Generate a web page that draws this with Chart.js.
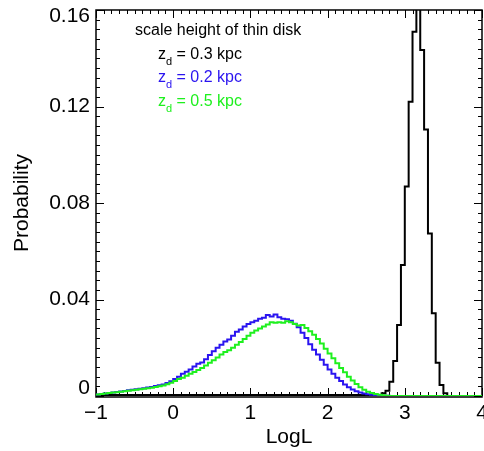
<!DOCTYPE html>
<html>
<head>
<meta charset="utf-8">
<script src="https://cdn.jsdelivr.net/npm/chart.js@4.4.1/dist/chart.umd.min.js"></script>
<style>
  html, body { margin: 0; padding: 0; background: #fff; }
</style>
</head>
<body>
<canvas id="chart" width="484" height="451"></canvas>
<script>
// histogram bins, width 0.05 in LogL
const BIN_WIDTH = 0.05;
const X_MIN = -1, X_MAX = 4;
const Y_MIN = 0, Y_MAX = 0.16;

const xTickLabels = ["\u22121", "0", "1", "2", "3", "4"];
const xTickValues = [-1, 0, 1, 2, 3, 4];
const yTickLabels = ["0", "0.04", "0.08", "0.12", "0.16"];
const yTickValues = [0, 0.04, 0.08, 0.12, 0.16];

// z_d = 0.3 kpc (black), bins from LogL = 2.70
const blackStart = 2.70;
const blackProb = [0.0004, 0.0011, 0.0022, 0.0059, 0.0145, 0.0294, 0.0543, 0.0868, 0.1220,
  0.1510, 0.1800, 0.1434, 0.1105, 0.0674, 0.0343, 0.0138, 0.0046, 0.0011];

// z_d = 0.2 kpc (blue), bins from LogL = -1.00
const blueStart = -1.00;
const blueProb = [
  0.0005, 0.0006, 0.0008, 0.0010, 0.0012, 0.0014, 0.0017, 0.0019, 0.0021, 0.0024,
  0.0026, 0.0028, 0.0030, 0.0032, 0.0035, 0.0037, 0.0041, 0.0045, 0.0048, 0.0054,
  0.0061, 0.0070, 0.0080, 0.0092, 0.0101, 0.0110, 0.0122, 0.0134, 0.0139, 0.0152,
  0.0170, 0.0185, 0.0200, 0.0212, 0.0226, 0.0234, 0.0250, 0.0266, 0.0276, 0.0288,
  0.0298, 0.0306, 0.0312, 0.0320, 0.0324, 0.0336, 0.0330, 0.0338, 0.0326, 0.0320,
  0.0318, 0.0312, 0.0300, 0.0285, 0.0262, 0.0240, 0.0215, 0.0192, 0.0172, 0.0150,
  0.0130, 0.0110, 0.0092, 0.0076, 0.0062, 0.0048, 0.0036, 0.0027, 0.0020, 0.0014,
  0.0010, 0.0007, 0.0005, 0.0003, 0.0002, 0.0001, 0.0001];

// z_d = 0.5 kpc (green), bins from LogL = -1.00
const greenStart = -1.00;
const greenProb = [
  0.0004, 0.0006, 0.0008, 0.0010, 0.0012, 0.0014, 0.0016, 0.0018, 0.0020, 0.0022,
  0.0024, 0.0026, 0.0028, 0.0030, 0.0032, 0.0034, 0.0037, 0.0040, 0.0044, 0.0049,
  0.0055, 0.0062, 0.0070, 0.0076, 0.0084, 0.0092, 0.0100, 0.0108, 0.0116, 0.0126,
  0.0138, 0.0148, 0.0160, 0.0172, 0.0182, 0.0190, 0.0200, 0.0212, 0.0224, 0.0236,
  0.0250, 0.0262, 0.0272, 0.0280, 0.0288, 0.0296, 0.0306, 0.0304, 0.0306, 0.0304,
  0.0310, 0.0306, 0.0298, 0.0292, 0.0294, 0.0282, 0.0268, 0.0254, 0.0236, 0.0218,
  0.0196, 0.0176, 0.0156, 0.0136, 0.0116, 0.0098, 0.0080, 0.0064, 0.0050, 0.0036,
  0.0026, 0.0018, 0.0012, 0.0008, 0.0005, 0.0003, 0.0001];

const legendTitle = "scale height of thin disk";
const legendLabels = ["= 0.3 kpc", "= 0.2 kpc", "= 0.5 kpc"];
const colBlack = "#000000", colBlue = "#2a14f0", colGreen = "#1ef01e";
const FONT = '"Liberation Sans", Arial, Helvetica, sans-serif';

// turn bin values into points for a stepped line, zero outside the bins
function stepPoints(start, vals) {
  var pts = [];
  if (start > X_MIN) pts.push({x: X_MIN, y: 0});
  for (var i = 0; i < vals.length; i++) {
    pts.push({x: +(start + i * BIN_WIDTH).toFixed(3), y: vals[i]});
  }
  pts.push({x: +(start + vals.length * BIN_WIDTH).toFixed(3), y: 0});
  pts.push({x: X_MAX, y: 0});
  return pts;
}

// IDL-style box: ticks inside on all four sides, labels and titles
const frameAxes = {
  id: "frameAxes",
  beforeDatasetsDraw(chart) {
    const {ctx, chartArea: a, scales: {x, y}} = chart;
    ctx.save();
    ctx.strokeStyle = "#000";
    ctx.lineWidth = 1;
    ctx.beginPath();
    for (var i = 0; i <= 50; i++) {
      var v = X_MIN + i * 0.1;
      var px = Math.round(x.getPixelForValue(v)) + 0.5;
      var len = (i % 10 === 0) ? 8 : 4;
      ctx.moveTo(px, a.bottom); ctx.lineTo(px, a.bottom - len);
      ctx.moveTo(px, a.top); ctx.lineTo(px, a.top + len);
    }
    for (var j = 0; j <= 40; j++) {
      var vy = Y_MIN + j * 0.004;
      var py = Math.round(y.getPixelForValue(vy)) + 0.5;
      var leny = (j % 10 === 0) ? 8 : 4;
      ctx.moveTo(a.left, py); ctx.lineTo(a.left + leny, py);
      ctx.moveTo(a.right, py); ctx.lineTo(a.right - leny, py);
    }
    ctx.stroke();
    ctx.lineWidth = 1.5;
    ctx.strokeRect(a.left, a.top, a.right - a.left, a.bottom - a.top + 1);

    // tick labels
    ctx.fillStyle = "#000";
    ctx.font = "21px " + FONT;
    ctx.textAlign = "center";
    ctx.textBaseline = "middle";
    xTickValues.forEach((v, k) => {
      ctx.fillText(xTickLabels[k], x.getPixelForValue(v), a.bottom + 17);
    });
    ctx.textAlign = "right";
    yTickValues.forEach((v, k) => {
      var py = y.getPixelForValue(v);
      py = Math.min(Math.max(py, a.top + 6), a.bottom - 8);
      ctx.fillText(yTickLabels[k], a.left - 6, py);
    });

    // axis titles
    ctx.textAlign = "center";
    ctx.fillText("LogL", (a.left + a.right) / 2, 437);
    ctx.save();
    ctx.translate(22, (a.top + a.bottom) / 2);
    ctx.rotate(-Math.PI / 2);
    ctx.fillText("Probability", 0, 0);
    ctx.restore();

    // legend text
    ctx.textAlign = "left";
    ctx.textBaseline = "alphabetic";
    ctx.font = "16px " + FONT;
    ctx.fillText(legendTitle, 135, 35);
    var cols = [colBlack, colBlue, colGreen];
    legendLabels.forEach((t, k) => {
      var bx = 158, by = 58.5 + k * 23.5;
      ctx.fillStyle = cols[k];
      ctx.font = "16px " + FONT;
      ctx.fillText("z", bx, by);
      bx += ctx.measureText("z").width;
      ctx.font = "11px " + FONT;
      ctx.fillText("d", bx, by + 6);
      bx += ctx.measureText("d").width;
      ctx.font = "16px " + FONT;
      ctx.fillText(" " + t, bx, by);
    });
    ctx.restore();
  }
};

new Chart(document.getElementById("chart"), {
  type: "line",
  data: {
    datasets: [
      {label: "z_d = 0.5 kpc", data: stepPoints(greenStart, greenProb), borderColor: colGreen},
      {label: "z_d = 0.2 kpc", data: stepPoints(blueStart, blueProb), borderColor: colBlue},
      {label: "z_d = 0.3 kpc", data: stepPoints(blackStart, blackProb), borderColor: colBlack}
    ].map(d => Object.assign(d, {
      stepped: "after",
      borderWidth: 2,
      pointRadius: 0,
      fill: false,
      tension: 0
    }))
  },
  options: {
    responsive: false,
    animation: false,
    events: [],
    layout: {padding: {left: 96, right: 2, top: 10, bottom: 55}},
    plugins: {legend: {display: false}, tooltip: {enabled: false}},
    scales: {
      x: {type: "linear", min: X_MIN, max: X_MAX, display: false},
      y: {type: "linear", min: Y_MIN, max: Y_MAX, display: false}
    }
  },
  plugins: [frameAxes]
});
</script>
</body>
</html>
